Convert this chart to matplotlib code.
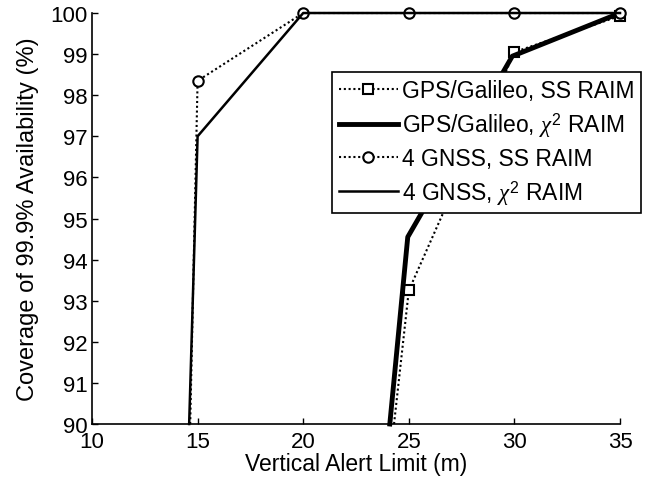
import matplotlib.pyplot as plt

plt.rcParams['font.family'] = ['Liberation Sans', 'DejaVu Sans']
plt.rcParams['mathtext.fontset'] = 'custom'
plt.rcParams['mathtext.rm'] = 'Liberation Sans'
plt.rcParams['mathtext.it'] = 'Liberation Serif:italic'

# data
gal_ss_x = [24.3, 25, 30, 35]
gal_ss_y = [90.0, 93.25, 99.05, 99.93]
gal_chi_x = [24.1, 24.95, 29.9, 35]
gal_chi_y = [90.0, 94.55, 98.95, 100.0]
gnss_ss_x = [14.65, 15, 20, 25, 30, 35]
gnss_ss_y = [90.0, 98.35, 100.0, 100.0, 100.0, 100.0]
gnss_chi_x = [14.6, 15, 20, 25, 30, 35]
gnss_chi_y = [90.0, 97.0, 100.0, 100.0, 100.0, 100.0]

labels = ['GPS/Galileo, SS RAIM', r'GPS/Galileo, $\chi^2$ RAIM',
          '4 GNSS, SS RAIM', r'4 GNSS, $\chi^2$ RAIM']

fig = plt.figure(figsize=(6.46, 4.85), dpi=100)
ax = fig.add_axes([0.1424, 0.1237, 0.8174, 0.8474])

dots = (0, (1, 1.3))
# first point of each marked series lies on the axis edge, no marker there
h1, = ax.plot(gal_ss_x, gal_ss_y, linestyle=dots, color='k', lw=1.5,
              marker='s', ms=7.5, mfc='white', mec='k', mew=1.5,
              markevery=list(range(1, len(gal_ss_x))))
h2, = ax.plot(gal_chi_x, gal_chi_y, '-', color='k', lw=3.5)
h3, = ax.plot(gnss_ss_x, gnss_ss_y, linestyle=dots, color='k', lw=1.5,
              marker='o', ms=7.5, mfc='white', mec='k', mew=1.5,
              markevery=list(range(1, len(gnss_ss_x))))
h4, = ax.plot(gnss_chi_x, gnss_chi_y, '-', color='k', lw=1.8)
for h in (h1, h2, h3, h4):
    h.set_clip_on(False)

ax.set_xlim(10, 35)
ax.set_ylim(90, 100)
ax.set_xticks(range(10, 36, 5))
ax.set_yticks(range(90, 101))
ax.tick_params(direction='in', length=4, width=1, labelsize=16, pad=3)
ax.tick_params(axis='x', pad=5)
for s in ('top', 'right'):
    ax.spines[s].set_visible(False)
for s in ('left', 'bottom'):
    ax.spines[s].set_linewidth(1.2)

ax.set_xlabel('Vertical Alert Limit (m)', fontsize=16.5, labelpad=0)
ax.set_ylabel('Coverage of 99.9% Availability (%)', fontsize=17, labelpad=8)

leg = ax.legend([h1, h2, h3, h4], labels, loc='upper right',
                bbox_to_anchor=(0.9923, 0.8495), bbox_transform=fig.transFigure,
                fontsize=16.5, frameon=True, fancybox=False, framealpha=1,
                edgecolor='k', handlelength=2.6, handletextpad=0.15,
                borderpad=0.3, labelspacing=0.35, borderaxespad=0)
leg.get_frame().set_linewidth(1.2)

fig.savefig('out.png', dpi=100)
